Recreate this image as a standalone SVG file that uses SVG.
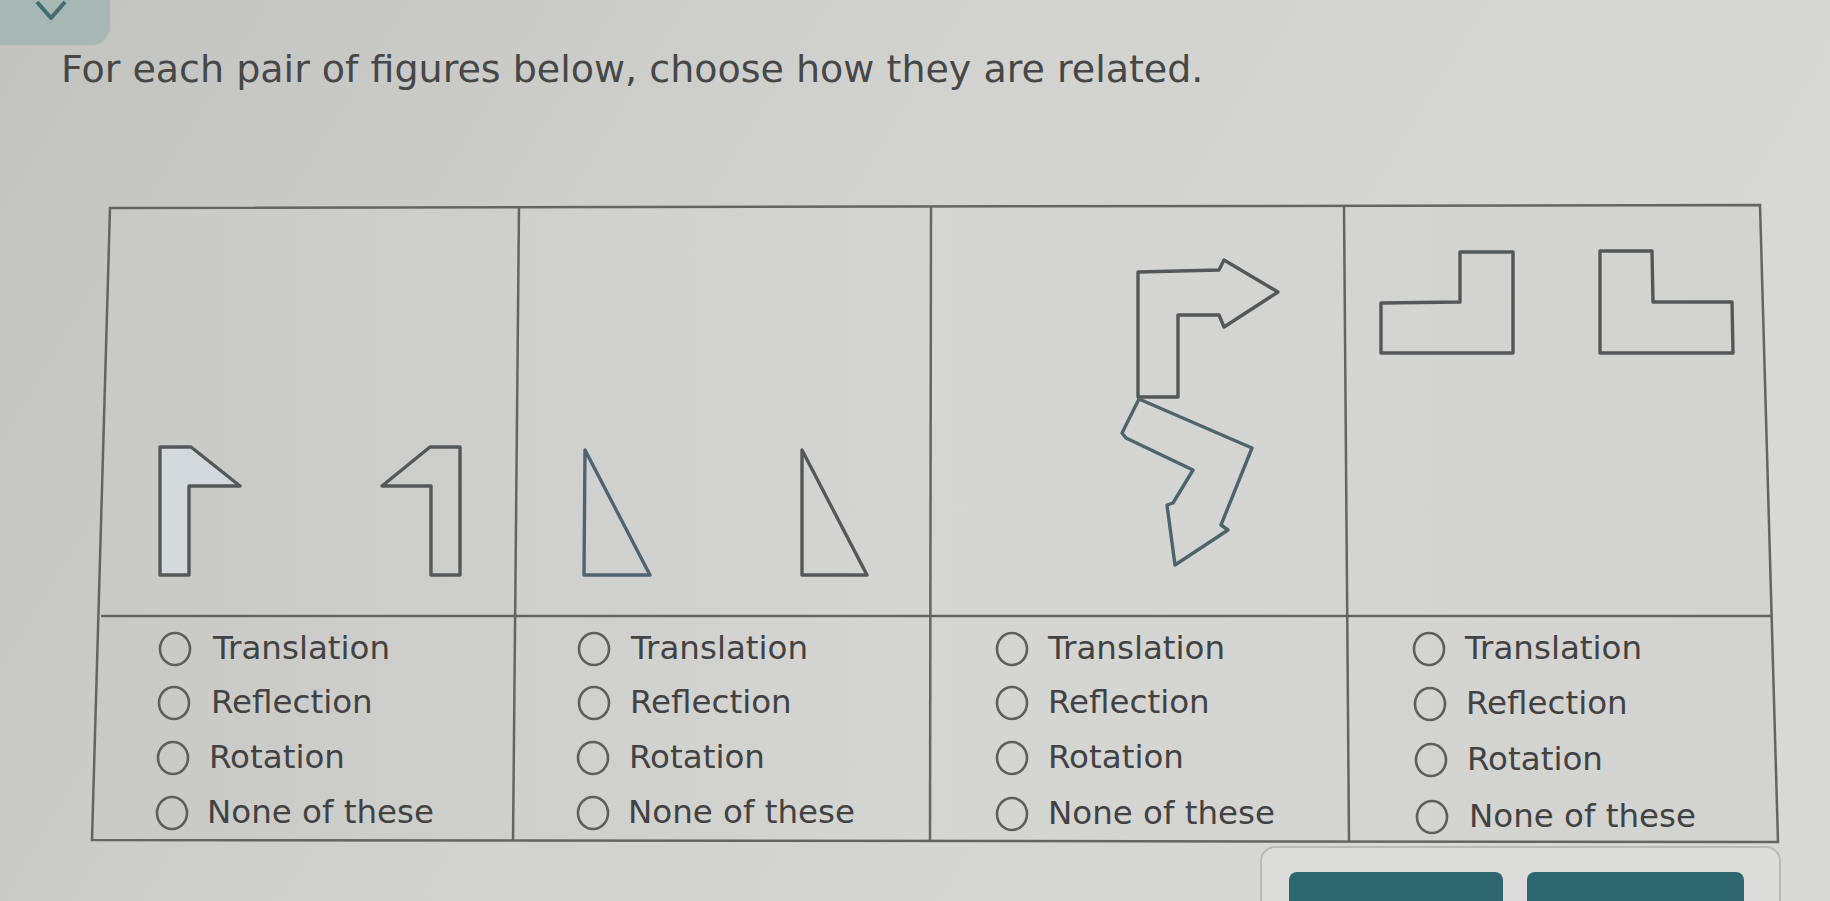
<svg xmlns="http://www.w3.org/2000/svg" width="1830" height="901" viewBox="0 0 1830 901">
  <defs>
    <linearGradient id="bg" x1="0" y1="0" x2="1" y2="0.3">
      <stop offset="0" stop-color="#c2c3c1"/>
      <stop offset="0.5" stop-color="#d2d3d1"/>
      <stop offset="1" stop-color="#d8d8d6"/>
    </linearGradient>
    <linearGradient id="tbl" x1="0" y1="0" x2="1" y2="0">
      <stop offset="0" stop-color="#c9cac8"/>
      <stop offset="0.5" stop-color="#d5d6d4"/>
      <stop offset="1" stop-color="#d3d3d1"/>
    </linearGradient>
    <style>
      .title { font-family: "DejaVu Sans", "Liberation Sans", sans-serif; font-size: 38px; fill: #474747; }
      .opt { font-family: "DejaVu Sans", "Liberation Sans", sans-serif; font-size: 32.5px; fill: #424242; }
      .radio { fill: none; stroke: #5e5e5e; stroke-width: 2.6; }
      .grid { fill: none; stroke: #646464; stroke-width: 2.5; }
      .fig { fill: none; stroke: #555859; stroke-width: 3.4; stroke-linejoin: round; }
    </style>
  </defs>

  <rect x="0" y="0" width="1830" height="901" fill="url(#bg)"/>

  <!-- top-left partial badge -->
  <g id="badge">
    <rect x="-30" y="-30" width="140" height="75" rx="18" fill="#a7b7b3"/>
    <polyline points="37,2 51,18 65,2" fill="none" stroke="#426c71" stroke-width="4" stroke-linejoin="round"/>
  </g>

  <text id="title" class="title" x="61" y="82">For each pair of figures below, choose how they are related.</text>

  <!-- table -->
  <g id="table">
    <polygon points="110,208 1760,205 1778,842 92,840" fill="url(#tbl)"/>
    <polygon class="grid" points="110,208 1760,205 1778,842 92,840"/>
    <line class="grid" x1="101" y1="616" x2="1771" y2="616"/>
    <line class="grid" x1="519" y1="207" x2="513" y2="841"/>
    <line class="grid" x1="931" y1="206" x2="930" y2="841"/>
    <line class="grid" x1="1344" y1="206" x2="1349" y2="842"/>
  </g>

  <!-- pair 1 -->
  <g id="pair1-figures">
    <polygon class="fig" points="160,447 191,447 240,486 189,486 189,575 160,575" style="fill:#d3d9dc"/>
    <polygon class="fig" points="460,447 430,447 382,486 431,486 431,575 460,575"/>
  </g>
  <!-- pair 2 -->
  <g id="pair2-figures">
    <polygon class="fig" points="585,450 650,575 584,575" style="stroke:#4f6370"/>
    <polygon class="fig" points="802,450 867,575 802,575"/>
  </g>
  <!-- pair 3 -->
  <g id="pair3-figures">
    <polygon class="fig" points="1138,272 1219,270 1224,260 1278,292 1224,327 1219,315 1178,315 1178,397 1138,397"/>
    <polygon class="fig" points="1139,399 1122,433 1126,438 1193,470 1173,503 1167,505 1175,565 1228,530 1221,525 1252,448" style="stroke:#4f6469"/>
  </g>
  <!-- pair 4 -->
  <g id="pair4-figures">
    <polygon class="fig" points="1460,252 1513,252 1513,353 1381,353 1381,303 1460,302"/>
    <polygon class="fig" points="1600,251 1652,251 1653,302 1732,302 1733,353 1600,353"/>
  </g>

  <!-- options -->
  <g id="pair1-options">
    <ellipse class="radio" cx="175" cy="649" rx="15" ry="16"/>
    <text class="opt" x="213" y="659">Translation</text>
    <ellipse class="radio" cx="174" cy="703" rx="15" ry="16"/>
    <text class="opt" x="211" y="713">Reflection</text>
    <ellipse class="radio" cx="173" cy="758" rx="15" ry="16"/>
    <text class="opt" x="209" y="768">Rotation</text>
    <ellipse class="radio" cx="172" cy="813" rx="15" ry="16"/>
    <text class="opt" x="207" y="823">None of these</text>
  </g>
  <g id="pair2-options">
    <ellipse class="radio" cx="594" cy="649" rx="15" ry="16"/>
    <text class="opt" x="631" y="659">Translation</text>
    <ellipse class="radio" cx="594" cy="703" rx="15" ry="16"/>
    <text class="opt" x="630" y="713">Reflection</text>
    <ellipse class="radio" cx="593" cy="758" rx="15" ry="16"/>
    <text class="opt" x="629" y="768">Rotation</text>
    <ellipse class="radio" cx="593" cy="813" rx="15" ry="16"/>
    <text class="opt" x="628" y="823">None of these</text>
  </g>
  <g id="pair3-options">
    <ellipse class="radio" cx="1012" cy="649" rx="15" ry="16"/>
    <text class="opt" x="1048" y="659">Translation</text>
    <ellipse class="radio" cx="1012" cy="703" rx="15" ry="16"/>
    <text class="opt" x="1048" y="713">Reflection</text>
    <ellipse class="radio" cx="1012" cy="758" rx="15" ry="16"/>
    <text class="opt" x="1048" y="768">Rotation</text>
    <ellipse class="radio" cx="1012" cy="814" rx="15" ry="16"/>
    <text class="opt" x="1048" y="824">None of these</text>
  </g>
  <g id="pair4-options">
    <ellipse class="radio" cx="1429" cy="649" rx="15" ry="16"/>
    <text class="opt" x="1465" y="659">Translation</text>
    <ellipse class="radio" cx="1430" cy="704" rx="15" ry="16"/>
    <text class="opt" x="1466" y="714">Reflection</text>
    <ellipse class="radio" cx="1431" cy="760" rx="15" ry="16"/>
    <text class="opt" x="1467" y="770">Rotation</text>
    <ellipse class="radio" cx="1432" cy="817" rx="15" ry="16"/>
    <text class="opt" x="1469" y="827">None of these</text>
  </g>

  <!-- bottom button panel -->
  <g id="button-panel">
    <rect x="1261" y="847" width="519" height="80" rx="14" fill="#dcdcda" stroke="#b9bab8" stroke-width="2"/>
    <rect x="1289" y="872" width="214" height="60" rx="8" fill="#2e6670"/>
    <rect x="1527" y="872" width="217" height="60" rx="8" fill="#2e6670"/>
  </g>
</svg>
